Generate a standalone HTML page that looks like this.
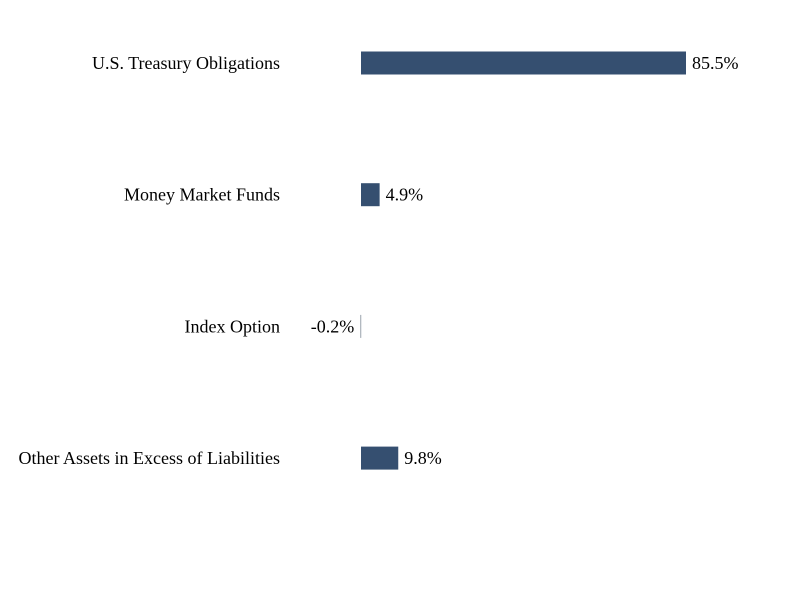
<!DOCTYPE html>
<html><head><meta charset="utf-8"><style>
html,body{margin:0;padding:0;background:#fff;}
svg text{font-family:"Liberation Serif",serif;font-size:18px;fill:#000;}
</style></head><body>
<svg id="chart" width="792" height="600" xmlns="http://www.w3.org/2000/svg"></svg>
<script>
const categories = ["U.S. Treasury Obligations","Money Market Funds","Index Option","Other Assets in Excess of Liabilities"];
const values = [85.5, 4.9, -0.2, 9.8];
const valueLabels = ["85.5%","4.9%","-0.2%","9.8%"];

const svg = document.getElementById('chart');
const NS = 'http://www.w3.org/2000/svg';
const x0 = 361, pxPer = 325/85.5;
function xScale(v){ return x0 + v*pxPer; }
function yCenter(i){ return 63 + i*131.7; }
const barH = 23;

categories.forEach((c,i)=>{
  const yc = yCenter(i);
  const lab = document.createElementNS(NS,'text');
  
  
  lab.setAttribute('x',280); lab.setAttribute('y',yc+6);
  lab.setAttribute('text-anchor','end');
  lab.textContent = c; svg.appendChild(lab);

  const v = values[i];
  const xa = Math.min(xScale(0), xScale(v)), xb = Math.max(xScale(0), xScale(v));
  const r = document.createElementNS(NS,'rect');
  
  
  r.setAttribute('x',xa); r.setAttribute('y',yc-barH/2);
  r.setAttribute('width',Math.max(xb-xa,1)); r.setAttribute('height',barH);
  r.setAttribute('fill', v<0 ? '#9aa3ad' : '#354f70');
  svg.appendChild(r);

  const t = document.createElementNS(NS,'text');
  
  
  t.setAttribute('y',yc+6);
  if(v<0){ t.setAttribute('x',xa-6); t.setAttribute('text-anchor','end'); }
  else { t.setAttribute('x',xb+6); }
  t.textContent = valueLabels[i]; svg.appendChild(t);
});
</script>
</body></html>
